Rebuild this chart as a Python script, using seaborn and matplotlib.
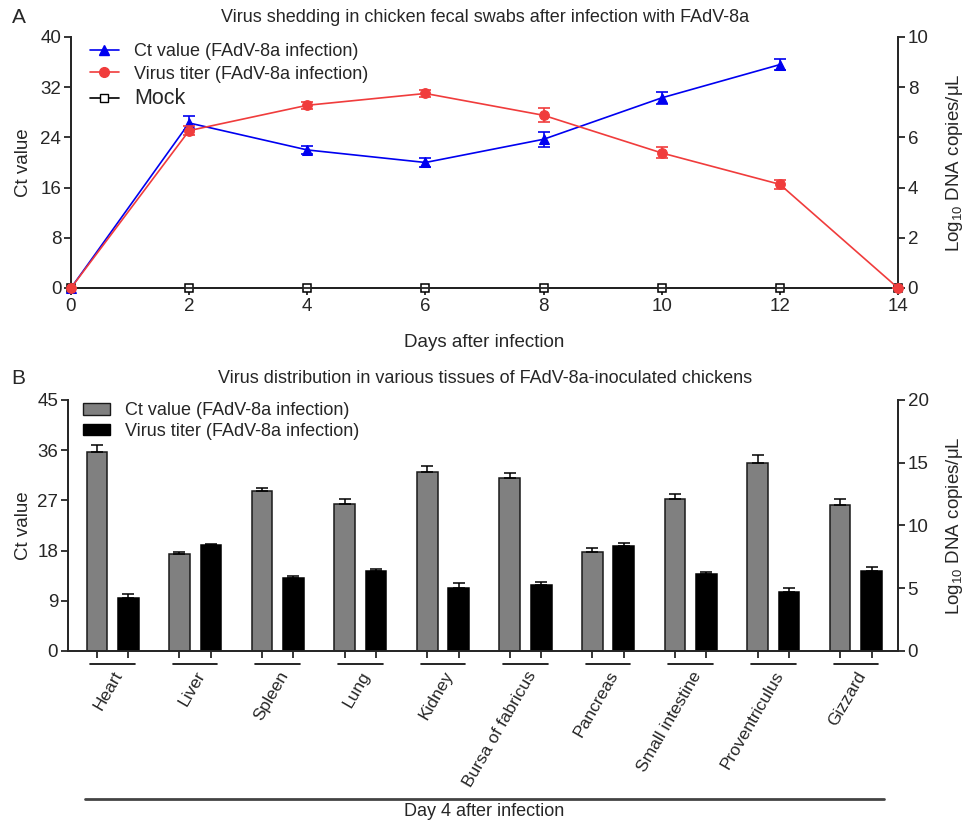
import matplotlib.pyplot as plt
import matplotlib.transforms as mtransforms
from matplotlib.lines import Line2D
from matplotlib.patches import Patch
import numpy as np
import seaborn as sns

# ---- Panel A: fecal swabs over time ----
days = [0, 2, 4, 6, 8, 10, 12, 14]
ct_days = [0, 2, 4, 6, 8, 10, 12]
ct_swab = [0, 26.3, 22.0, 20.0, 23.7, 30.3, 35.6]
ct_swab_err = [0, 1.05, 0.65, 0.65, 1.2, 1.0, 0.9]
titer_swab = [0, 6.27, 7.28, 7.75, 6.88, 5.38, 4.13, 0]
titer_swab_err = [0, 0.17, 0.15, 0.15, 0.28, 0.22, 0.17, 0]
mock_swab = [0, 0, 0, 0, 0, 0, 0, 0]

# ---- Panel B: tissues on day 4 ----
tissues = ["Heart", "Liver", "Spleen", "Lung", "Kidney", "Bursa of fabricus",
           "Pancreas", "Small intestine", "Proventriculus", "Gizzard"]
ct_tissue = [35.6, 17.3, 28.7, 26.4, 32.0, 31.0, 17.8, 27.3, 33.7, 26.1]
ct_tissue_err = [1.4, 0.5, 0.5, 0.85, 1.2, 0.85, 0.6, 0.8, 1.5, 1.1]
titer_tissue = [4.25, 8.45, 5.84, 6.37, 5.05, 5.28, 8.38, 6.12, 4.66, 6.39]
titer_tissue_err = [0.27, 0.1, 0.1, 0.15, 0.35, 0.24, 0.24, 0.19, 0.32, 0.27]

sns.set_style("ticks")
plt.rcParams["font.family"] = ["Liberation Sans", "DejaVu Sans"]
plt.rcParams["mathtext.fontset"] = "custom"
plt.rcParams["mathtext.rm"] = "Liberation Sans"
plt.rcParams["axes.linewidth"] = 1.3

BLUE = "#0000f0"
RED = "#f03c3c"
TICK_FS = 13.5
LABEL_FS = 13.5
TITLE_FS = 13
LEG_FS = 13
right_label = "Log$_{10}$ DNA copies/μL"

fig = plt.figure(figsize=(9.71, 8.24), dpi=100)

# ================= Panel A =================
ax_a = fig.add_axes([0.0731, 0.6505, 0.8517, 0.3046])
ax_ar = ax_a.twinx()

sns.lineplot(x=ct_days, y=ct_swab, ax=ax_a, color=BLUE, marker="^", markersize=7.5,
             markeredgecolor=BLUE, linewidth=1.2, clip_on=False, zorder=4)
ax_a.errorbar(ct_days, ct_swab, yerr=ct_swab_err, fmt="none", ecolor=BLUE,
              elinewidth=1.2, capsize=4, capthick=1.2, zorder=4)
sns.lineplot(x=days, y=mock_swab, ax=ax_a, color="black", marker="s", markersize=6,
             markerfacecolor="white", markeredgecolor="black", markeredgewidth=1.1,
             linewidth=1.2, clip_on=False, zorder=3)

sns.lineplot(x=days, y=titer_swab, ax=ax_ar, color=RED, marker="o", markersize=7,
             markeredgecolor=RED, linewidth=1.2, clip_on=False, zorder=4)
ax_ar.errorbar(days, titer_swab, yerr=titer_swab_err, fmt="none", ecolor=RED,
               elinewidth=1.2, capsize=4, capthick=1.2, zorder=4)

ax_a.set_xlim(0, 14)
ax_a.set_ylim(0, 40)
ax_ar.set_ylim(0, 10)
ax_a.set_xticks(range(0, 15, 2))
ax_a.set_yticks(range(0, 41, 8))
ax_ar.set_yticks(range(0, 11, 2))
for a in (ax_a, ax_ar):
    a.spines["top"].set_visible(False)
    a.tick_params(direction="out", length=5, width=1.3, labelsize=TICK_FS, pad=2)
ax_a.set_xlabel("Days after infection", fontsize=LABEL_FS)
ax_a.xaxis.set_label_coords(0.5, -0.185)
ax_a.set_ylabel("Ct value", fontsize=LABEL_FS)
ax_a.yaxis.set_label_coords(-0.047, 0.5)
ax_ar.set_ylabel(right_label, fontsize=LABEL_FS)
ax_ar.yaxis.set_label_coords(1.056, 0.5)

handles_a = [
    Line2D([], [], color=BLUE, marker="^", markersize=7.5, linewidth=1.2),
    Line2D([], [], color=RED, marker="o", markersize=7, linewidth=1.2),
    Line2D([], [], color="black", marker="s", markersize=6, markerfacecolor="white",
           linewidth=1.2),
]
leg_a = ax_ar.legend(handles_a, ["Ct value (FAdV-8a infection)",
                                 "Virus titer (FAdV-8a infection)", "Mock"],
                     loc="upper left", bbox_to_anchor=(0.023, 0.975), frameon=False,
                     fontsize=LEG_FS, handlelength=1.6, handletextpad=0.85,
                     labelspacing=0.3, borderpad=0, borderaxespad=0)
leg_a.get_texts()[2].set_fontsize(15.5)

fig.text(0.5, 0.979, "Virus shedding in chicken fecal swabs after infection with FAdV-8a",
         ha="center", va="center", fontsize=TITLE_FS)
fig.text(0.012, 0.979, "A", ha="left", va="center", fontsize=15)

# ================= Panel B =================
ax_b = fig.add_axes([0.0700, 0.2100, 0.8548, 0.3046])
ax_br = ax_b.twinx()

idx = np.arange(len(tissues))
gray_pos = idx - 0.19
black_pos = idx + 0.19

sns.barplot(x=gray_pos, y=ct_tissue, ax=ax_b, native_scale=True, orient="x",
            width=0.25, color="#808080", saturation=1, edgecolor="#1a1a1a",
            linewidth=1.1, errorbar=None)
ax_b.errorbar(gray_pos, ct_tissue, yerr=[np.zeros(len(idx)), ct_tissue_err],
              fmt="none", ecolor="black", elinewidth=1.1, capsize=4, capthick=1.1)
sns.barplot(x=black_pos, y=titer_tissue, ax=ax_br, native_scale=True, orient="x",
            width=0.25, color="black", saturation=1, edgecolor="black",
            linewidth=1.1, errorbar=None)
ax_br.errorbar(black_pos, titer_tissue, yerr=[np.zeros(len(idx)), titer_tissue_err],
               fmt="none", ecolor="black", elinewidth=1.1, capsize=4, capthick=1.1)

ax_b.set_xlim(-0.54, 9.51)
ax_b.set_ylim(0, 45)
ax_br.set_ylim(0, 20)
ax_b.set_yticks(range(0, 46, 9))
ax_br.set_yticks(range(0, 21, 5))
ax_b.set_xticks(np.sort(np.concatenate([gray_pos, black_pos])))
ax_b.set_xticklabels([])
ax_b.set_xlabel("")
ax_br.xaxis.set_visible(False)
for a in (ax_b, ax_br):
    a.spines["top"].set_visible(False)
    a.tick_params(direction="out", length=5, width=1.3, labelsize=TICK_FS, pad=2)
ax_b.set_ylabel("Ct value", fontsize=LABEL_FS)
ax_b.yaxis.set_label_coords(-0.043, 0.5)
ax_br.set_ylabel(right_label, fontsize=LABEL_FS)
ax_br.yaxis.set_label_coords(1.056, 0.5)

# group bars, rotated tissue names, day bracket
trans = mtransforms.blended_transform_factory(ax_b.transData, ax_b.transAxes)
for i, name in enumerate(tissues):
    ax_b.plot([i - 0.27, i + 0.27], [-0.052, -0.052], color="black", linewidth=1.2,
              transform=trans, clip_on=False)
    ax_b.text(i + 0.08, -0.085, name, transform=trans, rotation=60,
              rotation_mode="anchor", ha="right", va="center", fontsize=12.5)
ax_b.plot([-0.33, 9.34], [-0.59, -0.59], color="#444444", linewidth=2,
          transform=trans, clip_on=False)
ax_b.text(4.5, -0.64, "Day 4 after infection", transform=trans, ha="center",
          va="center", fontsize=13)

leg_b = ax_br.legend([Patch(facecolor="#808080", edgecolor="#1a1a1a"),
                      Patch(facecolor="black", edgecolor="black")],
                     ["Ct value (FAdV-8a infection)", "Virus titer (FAdV-8a infection)"],
                     loc="upper left", bbox_to_anchor=(0.018, 0.99), frameon=False,
                     fontsize=LEG_FS, handlelength=1.5, handleheight=0.6,
                     handletextpad=0.85, labelspacing=0.2, borderpad=0,
                     borderaxespad=0)

fig.text(0.5, 0.541, "Virus distribution in various tissues of FAdV-8a-inoculated chickens",
         ha="center", va="center", fontsize=TITLE_FS)
fig.text(0.012, 0.541, "B", ha="left", va="center", fontsize=15)

fig.savefig("out.png", dpi=100)
